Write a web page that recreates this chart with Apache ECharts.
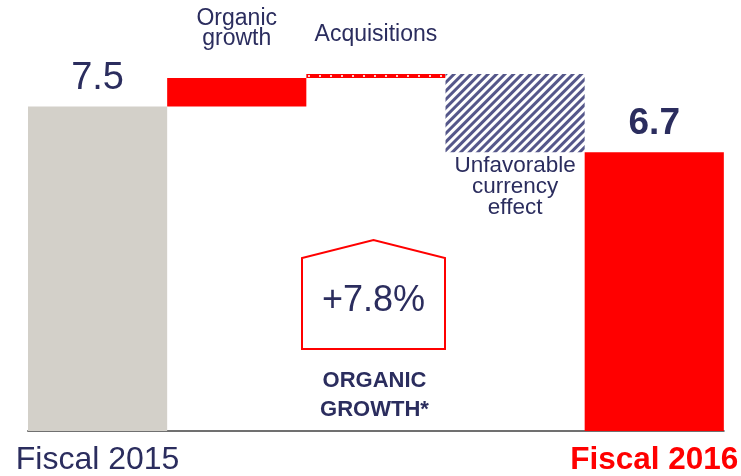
<!DOCTYPE html>
<html>
<head>
<meta charset="utf-8">
<script src="https://cdn.jsdelivr.net/npm/echarts@6/dist/echarts.min.js"></script>
<style>
  html, body { margin: 0; padding: 0; background: #ffffff; }
  #chart { width: 741px; height: 476px; }
</style>
</head>
<body>
<div id="chart"></div>
<script>
// Revenue bridge, fiscal 2015 -> fiscal 2016 (billions)
const categories = ['Fiscal 2015', 'Organic growth', 'Acquisitions', 'Unfavorable currency effect', 'Fiscal 2016'];
const axisLabels = ['Fiscal 2015', '', '', '', 'Fiscal 2016'];
const startTotal = 7.5;
const steps = [0.5, 0.07, -1.37];          // organic, acquisitions, currency
const stepLabels = ['Organic\ngrowth', 'Acquisitions', 'Unfavorable\ncurrency\neffect'];
const endTotal = 6.7;
const organicGrowthText = '+7.8%';
const organicGrowthCaption = 'ORGANIC\nGROWTH*';

const NAVY = '#2b2d5e';
const RED = '#ff0000';
const GREY = '#d3d0c9';
const FONT = '"Liberation Sans", Arial, sans-serif';

// Running totals give the invisible base of each floating step
const baseData = ['-'];
const deltaData = ['-'];
let running = startTotal;
steps.forEach(function (s) {
  const next = running + s;
  baseData.push(Math.min(running, next));
  deltaData.push(Math.abs(s));
  running = next;
});
baseData.push('-');
deltaData.push('-');

const stepStyles = [
  { color: RED },
  { color: RED, decal: { symbol: 'rect', symbolSize: 1, dashArrayX: [[1.5, 9]], dashArrayY: [1.5, 2.5], color: 'rgba(255,255,255,0.8)' } },
  { color: '#ffffff', decal: { symbol: 'rect', symbolSize: 1, dashArrayX: [1, 0], dashArrayY: [2.2, 2.2], rotation: -Math.PI / 4, color: '#55578a' } }
];
const stepLabelCfg = [
  { position: 'top', distance: 29, lineHeight: 20, fontSize: 23 },
  { position: 'top', distance: 27, lineHeight: 24, fontSize: 23 },
  { position: 'bottom', distance: 3, lineHeight: 21, fontSize: 22.5 }
];

const deltaItems = deltaData.map(function (v, i) {
  if (v === '-') return v;
  const k = i - 1;
  return {
    value: v,
    itemStyle: stepStyles[k],
    label: Object.assign({ show: true, formatter: stepLabels[k], color: NAVY, fontFamily: FONT }, stepLabelCfg[k])
  };
});

const totalItems = [
  {
    value: startTotal,
    itemStyle: { color: GREY },
    label: { show: true, position: 'top', distance: 9, fontSize: 38, color: NAVY, fontFamily: FONT, formatter: String(startTotal) }
  },
  '-', '-', '-',
  {
    value: endTotal,
    itemStyle: { color: RED },
    label: { show: true, position: 'top', distance: 10, fontSize: 37, fontWeight: 'bold', color: NAVY, fontFamily: FONT, formatter: String(endTotal) }
  }
];

const chart = echarts.init(document.getElementById('chart'));
chart.setOption({
  animation: false,
  backgroundColor: '#ffffff',
  grid: { left: 28, right: 14, top: 10, bottom: 43 },
  xAxis: {
    type: 'category',
    data: categories,
    axisLine: { lineStyle: { color: '#707070', width: 2 } },
    axisTick: { show: false },
    axisLabel: {
      interval: 0,
      margin: 13,
      formatter: function (v, i) {
        if (!axisLabels[i]) return '';
        return i === 0 ? '{a|' + axisLabels[i] + '}' : '{b|' + axisLabels[i] + '}';
      },
      rich: {
        a: { fontSize: 32, color: NAVY, fontFamily: FONT },
        b: { fontSize: 31.5, color: RED, fontWeight: 'bold', fontFamily: FONT }
      }
    }
  },
  yAxis: {
    type: 'value',
    min: 1.83,
    max: 9.187,
    show: false,
    splitLine: { show: false }
  },
  series: [
    {
      name: 'base',
      type: 'bar',
      stack: 'bridge',
      barCategoryGap: '0%',
      itemStyle: { color: 'transparent' },
      silent: true,
      data: baseData
    },
    {
      name: 'change',
      type: 'bar',
      stack: 'bridge',
      barCategoryGap: '0%',
      data: deltaItems
    },
    {
      name: 'total',
      type: 'bar',
      stack: 'bridge',
      barCategoryGap: '0%',
      data: totalItems
    }
  ],
  graphic: [
    {
      type: 'polygon',
      shape: { points: [[302, 349], [302, 258], [373.5, 240], [445, 258], [445, 349]] },
      style: { fill: 'none', stroke: RED, lineWidth: 2 }
    },
    {
      type: 'text',
      x: 373.5, y: 301,
      style: { text: organicGrowthText, fill: NAVY, font: '36px ' + FONT, align: 'center', verticalAlign: 'middle' }
    },
    {
      type: 'text',
      x: 374.5, y: 395,
      style: { text: organicGrowthCaption, fill: NAVY, font: 'bold 22px ' + FONT, lineHeight: 29, align: 'center', verticalAlign: 'middle' }
    }
  ]
});
</script>
</body>
</html>
